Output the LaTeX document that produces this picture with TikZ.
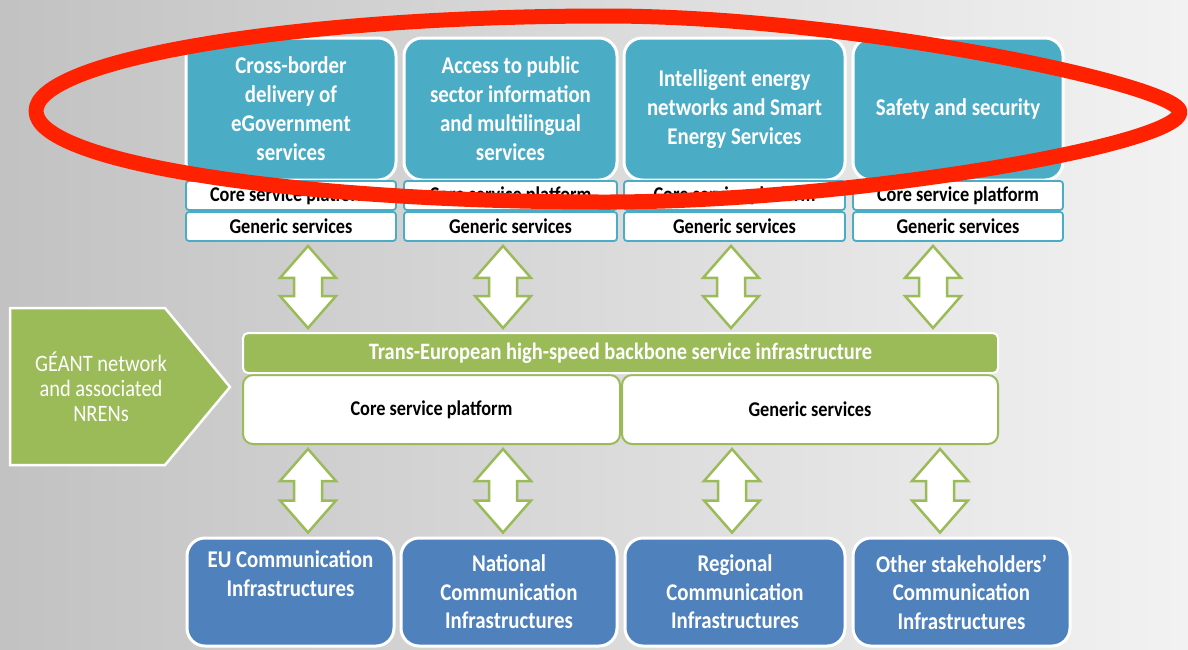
\documentclass[tikz,border=0pt]{standalone}
\usepackage{fontspec}
\setmainfont{Carlito}[FakeStretch=0.87]
\usepackage{tikz}
\usetikzlibrary{calc}

\definecolor{tealbox}{HTML}{4BACC6}
\definecolor{bluebox}{HTML}{4F81BD}
\definecolor{greenbox}{HTML}{9BBB59}
\definecolor{redmark}{HTML}{FF2200}

\tikzset{
  appbox/.style={draw=white, line width=3pt, fill=tealbox, rounded corners=18pt,
    text=white, font=\bfseries\fontsize{24}{29}\selectfont, align=center,
    minimum height=142pt, inner sep=0pt},
  svcbox/.style={draw=tealbox, line width=1.8pt, fill=white, rounded corners=3pt,
    font=\bfseries\fontsize{21}{24}\selectfont, minimum height=29pt, inner sep=0pt},
  infrabox/.style={draw=white, line width=3pt, fill=bluebox, rounded corners=18pt,
    text=white, font=\bfseries\fontsize{24}{28.5}\selectfont, align=center,
    minimum height=108pt, inner sep=0pt},
  backbone/.style={draw=white, line width=2pt, fill=greenbox, rounded corners=5pt,
    text=white, font=\bfseries\fontsize{23.5}{26}\selectfont,
    minimum height=40pt, minimum width=755pt, inner sep=0pt},
  platbox/.style={draw=greenbox, line width=2pt, fill=white, rounded corners=10pt,
    font=\bfseries\fontsize{21}{24}\selectfont, minimum height=69pt},
  fatarrow/.style={draw=greenbox, line width=2.5pt, fill=white},
}

% fat up/down arrow at x between two nodes
\newcommand{\updown}[3]{%
  \draw[fatarrow] let \p1=(#2.south), \p2=(#3.north) in
    (#1,\y1-4pt) -- (#1+28,\y1-36pt) -- (#1+14,\y1-36pt) -- (#1+14,\y2+36pt)
    -- (#1+28,\y2+36pt) -- (#1,\y2+4pt) -- (#1-28,\y2+36pt) -- (#1-14,\y2+36pt)
    -- (#1-14,\y1-36pt) -- (#1-28,\y1-36pt) -- cycle;}

\begin{document}
\begin{tikzpicture}[x=1pt,y=1pt]
	\useasboundingbox (0,0) rectangle (1188,-649);
	\fill[left color=black!24, right color=black!5] (0,0) rectangle (1188,-649);

	% application services
	\node[appbox, minimum width=210pt] (app1) at (291,-109) {Cross-border\\delivery of\\eGovernment\\services};
	\node[appbox, minimum width=213pt] (app2) at (510.5,-109) {Access to public\\sector information\\and multilingual\\services};
	\node[appbox, minimum width=221pt] (app3) at (734.5,-109) {Intelligent energy\\networks and Smart\\Energy Services};
	\node[appbox, minimum width=210pt] (app4) at (958,-109) {Safety and security};

	\node[svcbox, minimum width=210pt] (core1) at (291,-195.5) {Core service platform};
	\node[svcbox, minimum width=213pt] (core2) at (510.5,-195.5) {Core service platform};
	\node[svcbox, minimum width=221pt] (core3) at (734.5,-195.5) {Core service platform};
	\node[svcbox, minimum width=210pt] (core4) at (958,-195.5) {Core service platform};

	\node[svcbox, minimum width=210pt] (gen1) at (291,-226.5) {Generic services};
	\node[svcbox, minimum width=213pt] (gen2) at (510.5,-226.5) {Generic services};
	\node[svcbox, minimum width=221pt] (gen3) at (734.5,-226.5) {Generic services};
	\node[svcbox, minimum width=210pt] (gen4) at (958,-226.5) {Generic services};

	% backbone
	\node[platbox, minimum width=377pt] (coreplat) at (431.5,-409.5) {Core service platform};
	\node[platbox, minimum width=376pt] (genplat) at (810,-409.5) {Generic services};
	\node[backbone] (backbone) at (620.5,-353) {Trans-European high-speed backbone service infrastructure};

	\draw[draw=white, line width=2.5pt, fill=greenbox] (10,-308) -- (165,-308) -- (230,-387) -- (165,-465) -- (10,-465) -- cycle;
	\node[text=white, align=center, font=\fontsize{23.5}{25}\selectfont] (geant) at (101,-387) {GÉANT network\\and associated\\NRENs};

	% communication infrastructures
	\node[infrabox, minimum width=207pt] (infra1) at (290.5,-592) {EU Communication\\Infrastructures\\\strut};
	\node[infrabox, minimum width=216pt] (infra2) at (509,-592) {National\\Communication\\Infrastructures};
	\node[infrabox, minimum width=220pt] (infra3) at (735,-592) {Regional\\Communication\\Infrastructures};
	\node[infrabox, minimum width=217pt] (infra4) at (961.5,-592) {Other stakeholders’\\Communication\\Infrastructures};

	\updown{308}{gen1}{backbone}
	\updown{503}{gen2}{backbone}
	\updown{731}{gen3}{backbone}
	\updown{933}{gen4}{backbone}

	\updown{308}{coreplat}{infra1}
	\updown{503}{coreplat}{infra2}
	\updown{732}{genplat}{infra3}
	\updown{940}{genplat}{infra4}

	% red mark round the top row
	\draw[redmark, line width=15pt, line join=round] (36,-111) .. controls (36,-60) and (290,-16) .. (606,-16)
		.. controls (850,-16) and (1180,-85) .. (1180,-112)
		.. controls (1180,-145) and (850,-202) .. (606,-202)
		.. controls (290,-202) and (36,-162) .. (36,-111) -- cycle;
\end{tikzpicture}
\end{document}
